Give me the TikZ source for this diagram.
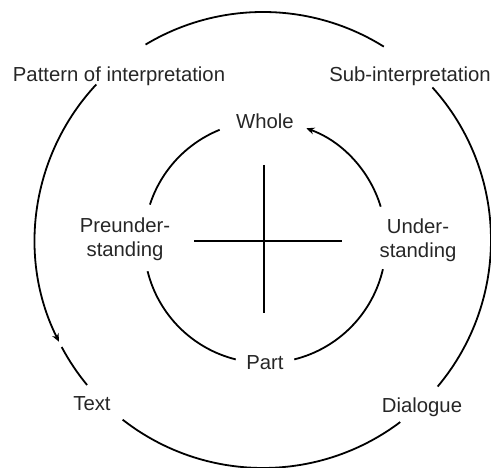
\documentclass[tikz,border=0pt]{standalone}
\usepackage{fontspec}
\setmainfont{Liberation Sans}
\usetikzlibrary{arrows.meta}
\begin{document}
\begin{tikzpicture}[x=1pt,y=1pt,
  ring/.style={line width=1.8pt,black},
  ringarrow/.style={ring,-{Stealth[length=8pt,width=7pt]}},
  crossline/.style={line width=1.8pt,black},
  lbl/.style={inner sep=0pt,font=\fontsize{20.3}{24}\selectfont,text=black!85},
  lbltwo/.style={lbl,align=center}]
\useasboundingbox (0,0) rectangle (491,468);
\coordinate (O) at (263,228);
\coordinate (I) at (265,226);
% labels
\node[lbl,anchor=base] (pattern) at (119,386) {Pattern of interpretation};
\node[lbl,anchor=base] (sub) at (410,386) {Sub-interpretation};
\node[lbl,anchor=base] (whole) at (265,339) {Whole};
\node[lbl,anchor=base] (part) at (265,98) {Part};
\node[lbl,anchor=base] (text) at (92,57) {Text};
\node[lbl,anchor=base] (dialogue) at (422,55) {Dialogue};
\node[lbltwo] (pre) at (125,229) {Preunder-\\standing};
\node[lbltwo] (under) at (418,228) {Under-\\standing};
% outer circle
\draw[ring] (O) ++(58:228) arc[start angle=58,end angle=121,radius=228];
\draw[ring] (O) ++(42:228) arc[start angle=42,end angle=-40,radius=228];
\draw[ring] (O) ++(-53:228) arc[start angle=-53,end angle=-128,radius=228];
\draw[ring] (O) ++(208:228) arc[start angle=208,end angle=219.5,radius=228];
\draw[ringarrow] (O) ++(137:228) arc[start angle=137,end angle=206.5,radius=228];
% inner circle
\draw[ring] (I) ++(112:121) arc[start angle=112,end angle=162,radius=121];
\draw[ring] (I) ++(194:121) arc[start angle=194,end angle=256,radius=121];
\draw[ring] (I) ++(284:121) arc[start angle=284,end angle=347,radius=121];
\draw[ringarrow] (I) ++(17:121) arc[start angle=17,end angle=70,radius=121];
% cross
\coordinate (cl) at (194,227);
\coordinate (cr) at (342,227);
\coordinate (ct) at (264,303);
\coordinate (cb) at (264,155);
\draw[crossline] (cl) -- (cr);
\draw[crossline] (ct) -- (cb);
\end{tikzpicture}
\end{document}
